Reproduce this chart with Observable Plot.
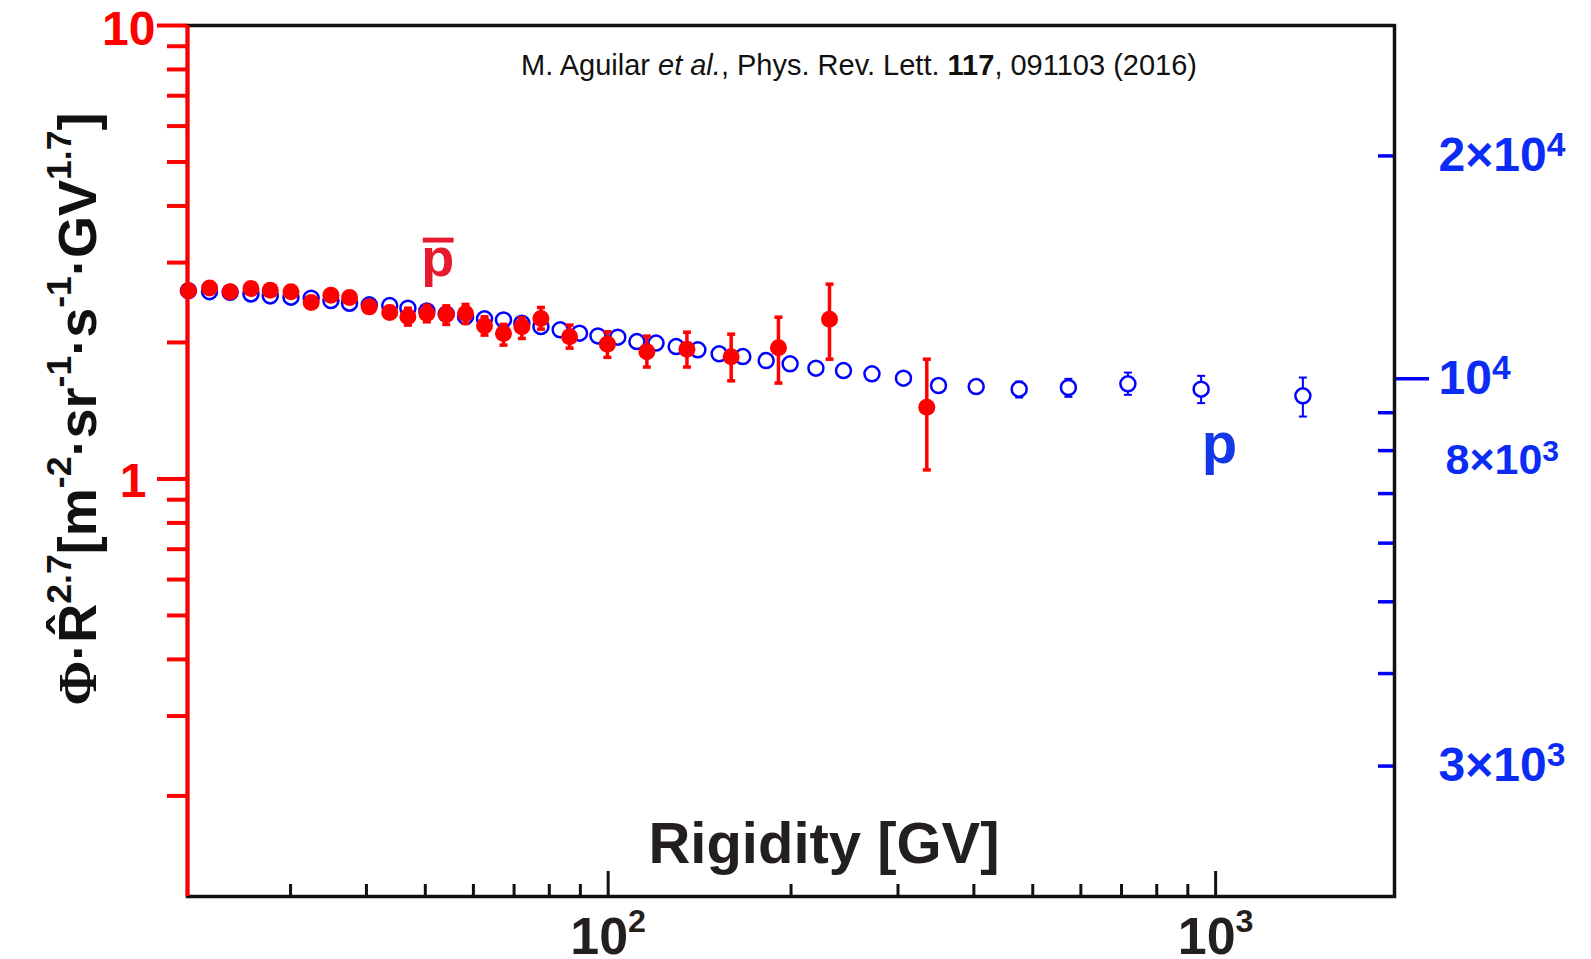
<!DOCTYPE html>
<html><head><meta charset="utf-8">
<script src="https://cdn.jsdelivr.net/npm/d3@7"></script>
<script src="https://cdn.jsdelivr.net/npm/@observablehq/plot@0.6"></script>
<style>
html,body{margin:0;padding:0;background:#fff;}
#wrap{position:relative;width:1591px;height:959px;overflow:hidden;background:#fff;}
#wrap svg{position:absolute;left:0;top:0;}
</style></head><body><div id="wrap"></div>
<script>
// ---------------- data ----------------
// antiproton (p-bar), left axis
const pbarR    = [20.37, 22.07, 23.86, 25.82, 27.78, 30.05, 32.44, 34.96, 37.52, 40.43, 43.69, 46.81, 50.30, 54.13, 58.24, 62.58, 67.25, 72.10, 77.50, 86.4, 99.7, 115.8, 134.8, 159.4, 190.7, 231.4, 334.6];
const pbarFlux = [2.599, 2.638, 2.586, 2.630, 2.608, 2.586, 2.450, 2.543, 2.513, 2.396, 2.329, 2.278, 2.317, 2.306, 2.317, 2.176, 2.094, 2.165, 2.259, 2.058, 1.983, 1.908, 1.933, 1.860, 1.946, 2.251, 1.439];
const pbarLo   = [2.55, 2.59, 2.54, 2.58, 2.56, 2.53, 2.40, 2.49, 2.46, 2.33, 2.26, 2.184, 2.221, 2.192, 2.203, 2.076, 1.973, 2.041, 2.140, 1.943, 1.854, 1.765, 1.765, 1.646, 1.627, 1.837, 1.047];
const pbarHi   = [2.65, 2.69, 2.64, 2.68, 2.66, 2.64, 2.50, 2.60, 2.57, 2.46, 2.40, 2.380, 2.417, 2.409, 2.426, 2.278, 2.192, 2.266, 2.389, 2.184, 2.111, 2.065, 2.107, 2.086, 2.274, 2.689, 1.837];
// proton (p), right axis
const pR    = [20.37, 22.07, 23.86, 25.82, 27.78, 30.05, 32.44, 34.96, 37.52, 40.43, 43.69, 46.81, 50.30, 54.13, 58.24, 62.58, 67.25, 72.10, 77.50, 83.37, 89.7, 96.2, 103.7, 111.5, 119.9, 129.4, 140.5, 152.3, 166.6, 182.0, 199.3, 219.8, 244.0, 271.8, 306.3, 349.8, 403.5, 474.9, 572.3, 717.1, 946.5, 1392];
const pFlux = [13155, 13113, 13091, 13021, 12942, 12891, 12850, 12754, 12652, 12586, 12557, 12456, 12352, 12236, 12134, 12050, 12012, 11890, 11766, 11645, 11527, 11429, 11384, 11229, 11175, 11056, 10943, 10808, 10717, 10585, 10477, 10338, 10261, 10157, 10022, 9794, 9763, 9685, 9734, 9846, 9685, 9486];
// proton points with visible error bars
const pErrR  = [474.9, 572.3, 717.1, 946.5, 1392];
const pErrLo = [9436, 9456, 9515, 9273, 8894];
const pErrHi = [9917, 10000, 10197, 10094, 10041];

// scales / ticks
const xDomain = [20.3, 1970];
const leftDomain = [0.12, 10];
const rightDomain = [2000, 30000];
const xTicksMajor = [100, 1000];
const xTickLabels = ["10^{2}", "10^{3}"];
const xTicksMinor = [30, 40, 50, 60, 70, 80, 90, 200, 300, 400, 500, 600, 700, 800, 900];
const leftTicksMajor = [1, 10];
const leftTickLabels = ["1", "10"];
const leftTicksMinor = [0.2, 0.3, 0.4, 0.5, 0.6, 0.7, 0.8, 0.9, 2, 3, 4, 5, 6, 7, 8, 9];
const rightTicksMinor = [3000, 4000, 5000, 6000, 7000, 8000, 9000, 20000];
const rightTicksMajor = [10000];
const rightLabelValues = [20000, 10000, 3000];
const rightLabelText = ["2×10^{4}", "10^{4}", "3×10^{3}"];
const rightLabelValues2 = [8000];
const rightLabelText2 = ["8×10^{3}"];

// texts
const xTitle = "Rigidity [GV]";
const yTitle = "{s:Φ}·R\u0302^{2.7}[m^{-2}·sr^{-1}·s^{-1}·GV^{1.7}]";
const citation = "M. Aguilar {i:et al.}, Phys. Rev. Lett. {b:117}, 091103 (2016)";
const pbarLabel = [{R: 52.4, v: 2.80, text: "p"}];
const pLabel = [{R: 1015, v: 7702, text: "p"}];

// ---------------- styling ----------------
const W = 1591, H = 959;
const FONT = "'Liberation Sans', Arimo, Arial, Helvetica, sans-serif";
const SERIF = "'Liberation Serif', 'DejaVu Serif', serif";
const RED = "#ff0000", BLUE = "#0000ff";
const margins = {marginLeft: 187, marginRight: 197, marginTop: 25, marginBottom: 63};
const capSym = (hw) => ({draw(ctx) { ctx.moveTo(-hw, 0); ctx.lineTo(hw, 0); }});

const pbarData = pbarR.map((R, i) => ({R, v: pbarFlux[i], lo: pbarLo[i], hi: pbarHi[i]}));
const pData = pR.map((R, i) => ({R, v: pFlux[i]}));
const pErr = pErrR.map((R, i) => ({R, lo: pErrLo[i], hi: pErrHi[i]}));

// ---- proton layer (bottom), right axis ----
const B = Plot.plot({
  width: W, height: H, ...margins,
  style: {background: "transparent", fontFamily: FONT},
  x: {type: "log", domain: xDomain, axis: null},
  y: {type: "log", domain: rightDomain},
  marks: [
    Plot.ruleX(pErr, {x: "R", y1: "lo", y2: "hi", stroke: BLUE, strokeWidth: 2}),
    Plot.dot(pErr, {x: "R", y: "lo", symbol: capSym(4), stroke: BLUE, strokeWidth: 2}),
    Plot.dot(pErr, {x: "R", y: "hi", symbol: capSym(4), stroke: BLUE, strokeWidth: 2}),
    Plot.dot(pData, {x: "R", y: "v", r: 7.5, stroke: BLUE, strokeWidth: 2.5, fill: "white"}),
    Plot.axisY({anchor: "right", ticks: rightTicksMinor, tickSize: -17, fill: "none", stroke: BLUE, strokeWidth: 3.5, label: null}),
    Plot.axisY({anchor: "right", ticks: rightTicksMajor, tickSize: 34, fill: "none", stroke: BLUE, strokeWidth: 3.5, label: null}),
    Plot.axisY({anchor: "right", ticks: rightLabelValues, tickSize: 0, tickPadding: 44,
      tickFormat: d => rightLabelText[rightLabelValues.indexOf(d)], fill: "#0b2cf5", fontSize: 48, fontWeight: "bold", label: null}),
    Plot.axisY({anchor: "right", ticks: rightLabelValues2, tickSize: 0, tickPadding: 51, dy: 10,
      tickFormat: d => rightLabelText2[rightLabelValues2.indexOf(d)], fill: "#0b2cf5", fontSize: 43, fontWeight: "bold", label: null}),
    Plot.text(pLabel, {x: "R", y: "v", text: "text", lineAnchor: "bottom", fontSize: 58, fontWeight: "bold", fill: "#1438e6"})
  ]
});

// ---- antiproton layer (top), left axis, x axis, frame ----
const A = Plot.plot({
  width: W, height: H, ...margins,
  style: {background: "transparent", fontFamily: FONT},
  x: {type: "log", domain: xDomain},
  y: {type: "log", domain: leftDomain},
  marks: [
    Plot.frame({stroke: "#111", strokeWidth: 3.5}),
    Plot.ruleX([xDomain[0]], {stroke: RED, strokeWidth: 4}),
    Plot.axisX({ticks: xTicksMinor, tickSize: -12, fill: "none", stroke: "#111", strokeWidth: 3, label: null}),
    Plot.axisX({ticks: xTicksMajor, tickSize: -25, fill: "none", stroke: "#111", strokeWidth: 3, label: null}),
    Plot.axisX({ticks: xTicksMajor, tickSize: 0, tickPadding: 21,
      tickFormat: d => xTickLabels[xTicksMajor.indexOf(d)], fill: "#231f20", fontSize: 52, fontWeight: "bold", label: null}),
    Plot.axisY({ticks: leftTicksMinor, tickSize: 20, fill: "none", stroke: RED, strokeWidth: 4, label: null}),
    Plot.axisY({ticks: leftTicksMajor, tickSize: 30, fill: "none", stroke: RED, strokeWidth: 4, label: null}),
    Plot.axisY({ticks: [leftTicksMajor[1]], tickSize: 0, tickPadding: 32, dy: 4,
      tickFormat: d => leftTickLabels[leftTicksMajor.indexOf(d)], fill: RED, fontSize: 48, fontWeight: "bold", label: null}),
    Plot.axisY({ticks: [leftTicksMajor[0]], tickSize: 0, tickPadding: 41, dy: 3,
      tickFormat: d => leftTickLabels[leftTicksMajor.indexOf(d)], fill: RED, fontSize: 48, fontWeight: "bold", label: null}),
    Plot.ruleX(pbarData, {x: "R", y1: "lo", y2: "hi", stroke: RED, strokeWidth: 3.5}),
    Plot.dot(pbarData, {x: "R", y: "lo", symbol: capSym(4), stroke: RED, strokeWidth: 3.5}),
    Plot.dot(pbarData, {x: "R", y: "hi", symbol: capSym(4), stroke: RED, strokeWidth: 3.5}),
    Plot.dot(pbarData, {x: "R", y: "v", r: 8.5, fill: RED}),
    Plot.text(pbarLabel, {x: "R", y: "v", text: "text", lineAnchor: "bottom", fontSize: 54, fontWeight: "bold", fill: "#e8192c"}),
    Plot.text([xTitle], {text: d => d, frameAnchor: "bottom", textAnchor: "middle", dx: 33, dy: -34, lineAnchor: "bottom", fontSize: 58, fontWeight: "bold", fill: "#231f20"}),
    Plot.text([yTitle], {text: d => d, frameAnchor: "left", textAnchor: "middle", dx: -92, dy: -52, rotate: -90, lineAnchor: "bottom", fontSize: 54, fontWeight: "bold", fill: "#111"}),
    Plot.text([citation], {text: d => d, frameAnchor: "top", textAnchor: "middle", dx: 68, dy: 49, lineAnchor: "bottom", fontSize: 29, fill: "#111"})
  ]
});

const wrap = document.getElementById("wrap");
wrap.appendChild(B);
wrap.appendChild(A);

// ---- rich text: superscripts, italic, bold, serif ----
function richify(el, supScale, supRaise) {
  const s = el.textContent;
  if (!/[\^{]/.test(s)) return;
  const fs = parseFloat(getComputedStyle(el).fontSize);
  el.textContent = "";
  const re = /\^\{([^}]*)\}|\{([isb]):([^}]*)\}|([^\^{]+)/g;
  let m, pending = 0;
  while ((m = re.exec(s)) !== null) {
    const t = document.createElementNS("http://www.w3.org/2000/svg", "tspan");
    if (m[1] !== undefined) {
      t.textContent = m[1];
      t.setAttribute("font-size", (fs * supScale).toFixed(2));
      t.setAttribute("dy", (pending - fs * supRaise).toFixed(2));
      pending = fs * supRaise;
    } else {
      if (m[2]) {
        t.textContent = m[3];
        if (m[2] === "i") t.setAttribute("font-style", "italic");
        if (m[2] === "b") t.setAttribute("font-weight", "bold");
        if (m[2] === "s") t.setAttribute("font-family", SERIF);
      } else t.textContent = m[4];
      if (pending) { t.setAttribute("dy", pending.toFixed(2)); pending = 0; }
    }
    el.appendChild(t);
  }
}
A.querySelectorAll("text").forEach(t => {
  if (t.textContent.startsWith("10^")) richify(t, 0.62, 0.44);
  else richify(t, 0.66, 0.46);
});
B.querySelectorAll("text").forEach(t => richify(t, 0.7, 0.32));

// ---- overbar on the p-bar label ----
const pt = [...A.querySelectorAll("text")].find(t => t.textContent === pbarLabel[0].text);
if (pt) {
  const bb = pt.getBBox();
  const fs = parseFloat(getComputedStyle(pt).fontSize);
  const base = bb.y + bb.height - 0.212 * fs;
  const ln = document.createElementNS("http://www.w3.org/2000/svg", "line");
  ln.setAttribute("x1", bb.x + 0.03 * fs);
  ln.setAttribute("x2", bb.x + bb.width - 0.01 * fs);
  ln.setAttribute("y1", base - 0.66 * fs);
  ln.setAttribute("y2", base - 0.66 * fs);
  ln.setAttribute("stroke", "#e8192c");
  ln.setAttribute("stroke-width", 0.09 * fs);
  if (pt.getAttribute("transform")) ln.setAttribute("transform", pt.getAttribute("transform"));
  pt.parentNode.appendChild(ln);
}
</script></body></html>
